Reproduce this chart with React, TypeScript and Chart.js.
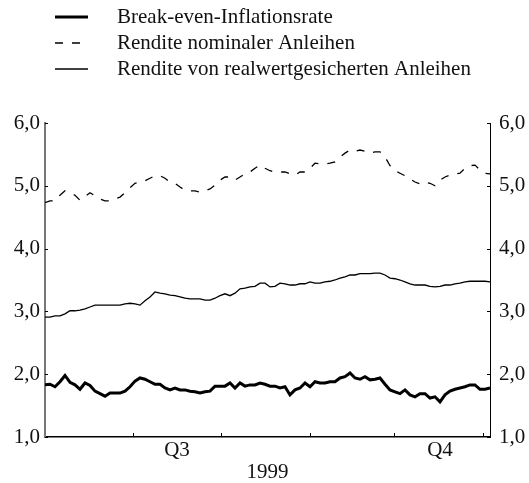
import React, { useEffect, useRef } from 'react';
import { Chart, registerables } from 'chart.js';

Chart.register(...registerables);

// Daily observations (index = trading day), values in %
const breakEven = [
  1.83, 1.84, 1.80, 1.88, 1.98, 1.87, 1.83, 1.76, 1.86, 1.82,
  1.73, 1.69, 1.65, 1.70, 1.70, 1.70, 1.73, 1.80, 1.89, 1.94,
  1.92, 1.88, 1.84, 1.84, 1.78, 1.75, 1.78, 1.75, 1.75, 1.73,
  1.72, 1.70, 1.72, 1.73, 1.81, 1.81, 1.81, 1.86, 1.78, 1.86,
  1.81, 1.83, 1.83, 1.86, 1.84, 1.81, 1.81, 1.78, 1.80, 1.67,
  1.75, 1.78, 1.86, 1.80, 1.88, 1.86, 1.86, 1.88, 1.88, 1.94,
  1.96, 2.02, 1.94, 1.92, 1.96, 1.91, 1.92, 1.94, 1.84, 1.75,
  1.72, 1.69, 1.75, 1.67, 1.64, 1.69, 1.69, 1.62, 1.64, 1.56,
  1.67, 1.73, 1.76, 1.78, 1.80, 1.83, 1.83, 1.76, 1.76, 1.78,
];

const nominal = [
  4.73, 4.76, 4.76, 4.85, 4.92, 4.89, 4.85, 4.77, 4.83, 4.89,
  4.84, 4.79, 4.76, 4.76, 4.79, 4.82, 4.89, 4.97, 5.04, 5.06,
  5.08, 5.12, 5.16, 5.16, 5.12, 5.06, 5.04, 4.98, 4.93, 4.92,
  4.92, 4.90, 4.92, 4.95, 5.01, 5.09, 5.14, 5.14, 5.09, 5.14,
  5.19, 5.22, 5.28, 5.33, 5.28, 5.24, 5.22, 5.22, 5.22, 5.19,
  5.17, 5.22, 5.22, 5.28, 5.36, 5.35, 5.35, 5.36, 5.38, 5.46,
  5.52, 5.57, 5.55, 5.57, 5.55, 5.52, 5.54, 5.54, 5.46, 5.32,
  5.24, 5.20, 5.16, 5.11, 5.06, 5.03, 5.06, 5.04, 5.00, 5.09,
  5.14, 5.17, 5.19, 5.20, 5.28, 5.32, 5.33, 5.25, 5.20, 5.19,
];

const real = [
  2.91, 2.91, 2.93, 2.93, 2.96, 3.01, 3.01, 3.02, 3.04, 3.07,
  3.10, 3.10, 3.10, 3.10, 3.10, 3.10, 3.12, 3.13, 3.12, 3.10,
  3.17, 3.23, 3.31, 3.29, 3.28, 3.26, 3.25, 3.23, 3.21, 3.20,
  3.20, 3.20, 3.18, 3.18, 3.21, 3.25, 3.28, 3.25, 3.29, 3.36,
  3.37, 3.39, 3.40, 3.45, 3.45, 3.39, 3.40, 3.45, 3.44, 3.42,
  3.42, 3.44, 3.44, 3.47, 3.45, 3.45, 3.47, 3.48, 3.50, 3.53,
  3.55, 3.58, 3.58, 3.60, 3.60, 3.60, 3.61, 3.61, 3.58, 3.53,
  3.52, 3.50, 3.47, 3.44, 3.42, 3.42, 3.42, 3.40, 3.39, 3.40,
  3.42, 3.42, 3.44, 3.45, 3.47, 3.48, 3.48, 3.48, 3.48, 3.47,
];

const seriesNames = [
  'Break-even-Inflationsrate',
  'Rendite nominaler Anleihen',
  'Rendite von realwertgesicherten Anleihen',
];

const yTickValues = [1, 2, 3, 4, 5, 6];
// month boundaries (trading-day index)
const monthTicks = [17.6, 35.2, 53, 69.8, 87.6];
const quarterLabels = ['Q3', 'Q4'];
const quarterPositions = [26.4, 79];
const yearLabel = '1999';

const FONT = '"Liberation Serif", "Times New Roman", serif';
const TEXT = '#111';

const toXY = (arr: number[]) => arr.map((y, i) => ({ x: i, y }));

const decorPlugin = {
  id: 'decor',
  afterDraw(chart: any) {
    const { ctx, scales } = chart;
    const x = scales.x;
    const y = scales.y;
    const area = chart.chartArea;
    ctx.save();
    ctx.strokeStyle = '#000';
    ctx.lineWidth = 1;
    // inward tick marks on bottom axis
    monthTicks.forEach((v) => {
      const px = Math.round(x.getPixelForValue(v)) + 0.5;
      ctx.beginPath();
      ctx.moveTo(px, area.bottom);
      ctx.lineTo(px, area.bottom - 4);
      ctx.stroke();
    });
    // inward tick marks on y axes
    yTickValues.forEach((v) => {
      const py = Math.round(y.getPixelForValue(v)) + 0.5;
      ctx.beginPath();
      ctx.moveTo(area.left, py);
      ctx.lineTo(area.left + 3, py);
      ctx.moveTo(area.right, py);
      ctx.lineTo(area.right - 3, py);
      ctx.stroke();
    });
    // legend
    chart.data.datasets.forEach((ds: any, i: number) => {
      const ly = 17 + i * 26;
      ctx.save();
      ctx.strokeStyle = ds.borderColor;
      ctx.lineWidth = ds.borderWidth;
      ctx.setLineDash(ds.borderDash || []);
      ctx.beginPath();
      ctx.moveTo(55, ly);
      ctx.lineTo(88, ly);
      ctx.stroke();
      ctx.setLineDash([]);
      ctx.fillStyle = TEXT;
      ctx.font = `21px ${FONT}`;
      ctx.textBaseline = 'middle';
      ctx.textAlign = 'left';
      ctx.fillText(ds.label, 117, ly);
      ctx.restore();
    });
    ctx.restore();
  },
};

export default function App() {
  const ref = useRef<HTMLCanvasElement | null>(null);

  useEffect(() => {
    document.body.style.margin = '0';
    const canvas = ref.current;
    if (!canvas) return;
    const tickFont = { family: FONT, size: 21 };
    const yFmt = (v: any) => Number(v).toFixed(1).replace('.', ',');
    const chart = new Chart(canvas, {
      type: 'line',
      data: {
        datasets: [
          {
            label: seriesNames[0],
            data: toXY(breakEven),
            borderColor: '#000',
            borderWidth: 3,
            pointRadius: 0,
            tension: 0,
            yAxisID: 'y',
          },
          {
            label: seriesNames[1],
            data: toXY(nominal),
            borderColor: '#000',
            borderWidth: 1.3,
            borderDash: [8, 9],
            pointRadius: 0,
            tension: 0,
            yAxisID: 'y',
          },
          {
            label: seriesNames[2],
            data: toXY(real),
            borderColor: '#000',
            borderWidth: 1.3,
            pointRadius: 0,
            tension: 0,
            yAxisID: 'y',
          },
        ],
      },
      options: {
        animation: false,
        responsive: false,
        maintainAspectRatio: false,
        layout: { padding: { top: 123, left: 0, right: 0, bottom: 0 } },
        plugins: { legend: { display: false }, tooltip: { enabled: false } },
        scales: {
          x: {
            type: 'linear',
            min: 0,
            max: breakEven.length - 1,
            grid: { display: false, drawTicks: false },
            border: { display: true, color: '#000', width: 1.5 },
            afterBuildTicks: (s: any) => {
              s.ticks = quarterPositions.map((v) => ({ value: v }));
            },
            ticks: {
              autoSkip: false,
              maxRotation: 0,
              padding: 1,
              color: TEXT,
              font: tickFont,
              callback: (_v: any, i: number) => quarterLabels[i],
            },
            title: {
              display: true,
              text: yearLabel,
              color: TEXT,
              font: tickFont,
              padding: { top: 0, bottom: -2 },
            },
            afterFit: (s: any) => {
              s.height = 46;
            },
          },
          y: {
            position: 'left',
            min: 1,
            max: 6,
            grid: { display: false, drawTicks: false },
            border: { display: true, color: '#777', width: 2 },
            afterBuildTicks: (s: any) => {
              s.ticks = yTickValues.map((v) => ({ value: v }));
            },
            ticks: { padding: 5, color: TEXT, font: tickFont, callback: yFmt },
            afterFit: (s: any) => {
              s.width = 45;
            },
          },
          y2: {
            position: 'right',
            min: 1,
            max: 6,
            grid: { display: false, drawTicks: false },
            border: { display: true, color: '#000', width: 1 },
            afterBuildTicks: (s: any) => {
              s.ticks = yTickValues.map((v) => ({ value: v }));
            },
            ticks: { padding: 9, color: TEXT, font: tickFont, callback: yFmt },
            afterFit: (s: any) => {
              s.width = 39;
            },
          },
        },
      },
      plugins: [decorPlugin],
    });
    return () => chart.destroy();
  }, []);

  return (
    <canvas
      ref={ref}
      width={529}
      height={483}
      style={{ display: 'block', width: 529, height: 483 }}
    />
  );
}
